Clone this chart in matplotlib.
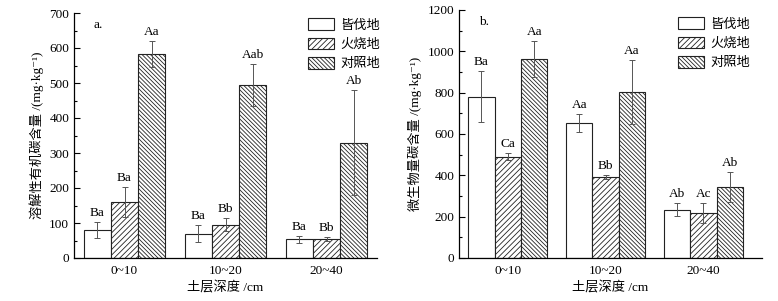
import numpy as np
import matplotlib
matplotlib.use("Agg")
import matplotlib.pyplot as plt
from matplotlib.ticker import MultipleLocator

plt.rcParams["font.family"] = ["Liberation Serif", "DejaVu Serif", "Noto Sans CJK SC"]
plt.rcParams["hatch.linewidth"] = 0.6

# ── 数据 ──────────────────────────────────────────────
depths = ["0~10", "10~20", "20~40"]
sites = ["皆伐地", "火烧地", "对照地"]

doc_mean = [[80, 70, 53], [160, 95, 55], [583, 494, 330]]
doc_err = [[22, 24, 11], [44, 19, 5], [38, 60, 150]]
doc_sig = [["Ba", "Ba", "Ba"], ["Ba", "Bb", "Bb"], ["Aa", "Aab", "Ab"]]

mbc_mean = [[781, 652, 233], [491, 391, 217], [963, 802, 343]]
mbc_err = [[124, 43, 32], [16, 11, 48], [85, 154, 72]]
mbc_sig = [["Ba", "Aa", "Ab"], ["Ca", "Bb", "Ac"], ["Aa", "Aa", "Ab"]]

hatches = ["", "//////", "\\\\\\\\\\\\\\\\"]
W, H = 778, 301


def draw_panel(rect, mean, err, sig, ymax, ystep, ylabel, tag, xmax, leg_xy):
    ax = fig.add_axes(rect)
    x = np.arange(1, len(depths) + 1)
    bw = 0.27
    for i, site in enumerate(sites):
        pos = x + (i - 1) * bw
        ax.bar(pos, mean[i], bw, color="white", edgecolor="#222222",
               linewidth=0.8, hatch=hatches[i], label=site)
        ax.errorbar(pos, mean[i], yerr=err[i], fmt="none", ecolor="#555555",
                    elinewidth=0.7, capsize=2.5, capthick=0.7)
        for p, m, e, s in zip(pos, mean[i], err[i], sig[i]):
            ax.text(p, m + e + ymax * 0.012, s, ha="center", va="bottom", fontsize=9.5)
    ax.set_xlim(0.5, xmax)
    ax.set_ylim(0, ymax)
    ax.yaxis.set_major_locator(MultipleLocator(ystep))
    ax.yaxis.set_minor_locator(MultipleLocator(ystep / 2))
    ax.set_xticks(x)
    ax.set_xticklabels(depths, fontsize=9.5)
    ax.tick_params(axis="x", length=0, pad=5)
    ax.tick_params(axis="y", which="major", direction="in", length=4, width=0.8, labelsize=9.5)
    ax.tick_params(axis="y", which="minor", direction="in", length=2.5, width=0.8)
    for s in ("top", "right"):
        ax.spines[s].set_visible(False)
    for s in ("left", "bottom"):
        ax.spines[s].set_linewidth(0.9)
    ax.set_ylabel(ylabel, fontsize=9.5, labelpad=4)
    ax.set_xlabel("土层深度 /cm", fontsize=9.5, labelpad=3)
    ax.text(0.065, 0.975, tag, transform=ax.transAxes, fontsize=9.5, va="top")
    ax.legend(loc="upper left", bbox_to_anchor=leg_xy, frameon=False, fontsize=9.5,
              handlelength=1.95, handleheight=1.0, labelspacing=0.45,
              handletextpad=0.5, borderaxespad=0)
    return ax


fig = plt.figure(figsize=(W / 100, H / 100), dpi=100)

draw_panel([74 / W, 1 - 258 / H, (377 - 74) / W, (258 - 13) / H],
           doc_mean, doc_err, doc_sig, 700, 100,
           "溶解性有机碳含量 /(mg·kg⁻¹)", "a.", 3.5,
           ((303 - 74) / (377 - 74), 1.0 - (13 - 13) / 245))

draw_panel([459 / W, 1 - 258 / H, (762 - 459) / W, (258 - 10) / H],
           mbc_mean, mbc_err, mbc_sig, 1200, 200,
           "微生物量碳含量 /(mg·kg⁻¹)", "b.", 3.6,
           ((673 - 459) / (762 - 459), 1.0 - (12 - 10) / 248))

fig.savefig("out.png", dpi=100)
